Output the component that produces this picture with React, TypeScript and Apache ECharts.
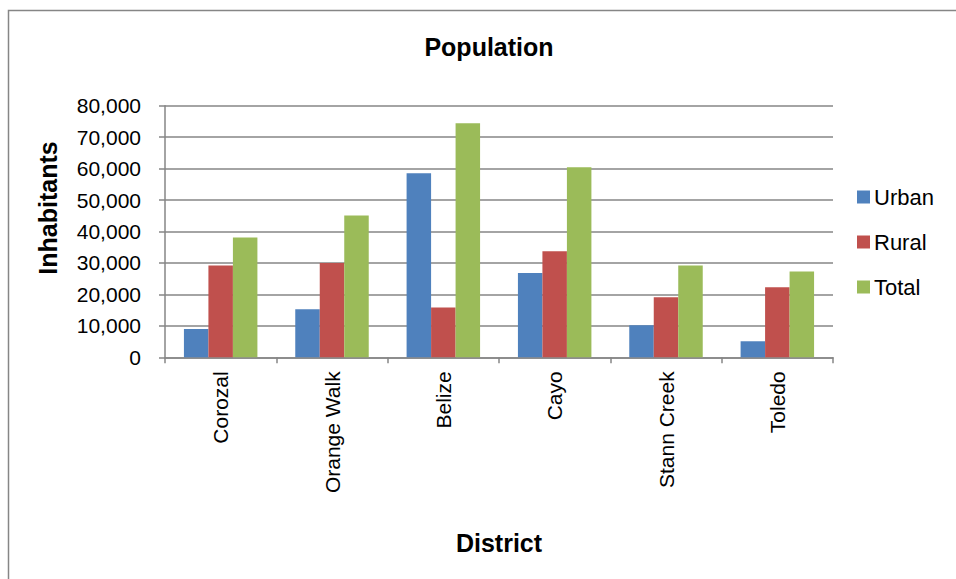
import React, { useEffect, useRef } from "react";
import * as echarts from "echarts";

const categories = ["Corozal", "Orange Walk", "Belize", "Cayo", "Stann Creek", "Toledo"];
const urban = [9000, 15300, 58500, 26800, 10200, 5100];
const rural = [29200, 30000, 15800, 33700, 19100, 22300];
const total = [38100, 45100, 74400, 60400, 29200, 27300];
const seriesNames = ["Urban", "Rural", "Total"];
const colors = ["#4F81BD", "#C0504D", "#9BBB59"];

const FONT = "Liberation Sans, Arial, sans-serif";

export default function App() {
  const ref = useRef<HTMLDivElement>(null);
  useEffect(() => {
    if (!ref.current) return;
    const chart = echarts.init(ref.current, null, { renderer: "svg" });
    const values = [urban, rural, total];
    chart.setOption({
      animation: false,
      backgroundColor: "#ffffff",
      textStyle: { fontFamily: FONT },
      graphic: [
        {
          type: "rect",
          shape: { x: 8.5, y: 10.5, width: 1000, height: 1000 },
          style: { fill: "none", stroke: "#868686", lineWidth: 1.5 },
          silent: true,
        },
        {
          type: "text",
          x: 489,
          y: 47,
          style: {
            text: "Population",
            fontFamily: FONT,
            fontWeight: "bold",
            fontSize: 25,
            fill: "#000",
            align: "center",
            verticalAlign: "middle",
          },
        },
        {
          type: "text",
          x: 48,
          y: 208,
          rotation: Math.PI / 2,
          style: {
            text: "Inhabitants",
            fontFamily: FONT,
            fontWeight: "bold",
            fontSize: 25,
            fill: "#000",
            align: "center",
            verticalAlign: "middle",
          },
        },
      ],
      legend: {
        orient: "vertical",
        left: 852,
        top: 181,
        itemWidth: 13,
        itemHeight: 13,
        itemGap: 23,
        icon: "rect",
        textStyle: { fontFamily: FONT, fontSize: 22, color: "#000", padding: [0, 0, 0, -1] },
        data: seriesNames,
      },
      grid: { left: 165, right: 123, top: 105.7, bottom: 221.7, containLabel: false },
      xAxis: {
        type: "category",
        data: categories,
        boundaryGap: true,
        name: "District",
        nameLocation: "middle",
        nameGap: 173,
        nameTextStyle: { fontFamily: FONT, fontWeight: "bold", fontSize: 25, color: "#000", verticalAlign: "top" },
        axisLine: { lineStyle: { color: "#868686", width: 1.5 } },
        axisTick: { show: true, length: 6, alignWithLabel: false, lineStyle: { color: "#868686", width: 1.5 } },
        axisLabel: { rotate: 90, margin: 14, fontFamily: FONT, fontSize: 21, color: "#000", interval: 0 },
      },
      yAxis: {
        type: "value",
        min: 0,
        max: 80000,
        interval: 10000,
        axisLine: { show: true, lineStyle: { color: "#868686", width: 1.5 } },
        axisTick: { show: true, length: 6, lineStyle: { color: "#868686", width: 1.5 } },
        axisLabel: {
          margin: 24,
          fontFamily: FONT,
          fontSize: 21,
          color: "#000",
          formatter: (v: number) => v.toLocaleString("en-US"),
        },
        splitLine: { show: true, lineStyle: { color: "#868686", width: 1.5 } },
      },
      series: seriesNames.map((name, i) => ({
        name,
        type: "bar",
        data: values[i],
        barGap: "0%",
        barCategoryGap: "34%",
        itemStyle: { color: colors[i] },
      })),
    });
    return () => chart.dispose();
  }, []);
  return <div ref={ref} style={{ width: 956, height: 579, position: "absolute", left: 0, top: 0 }} />;
}
